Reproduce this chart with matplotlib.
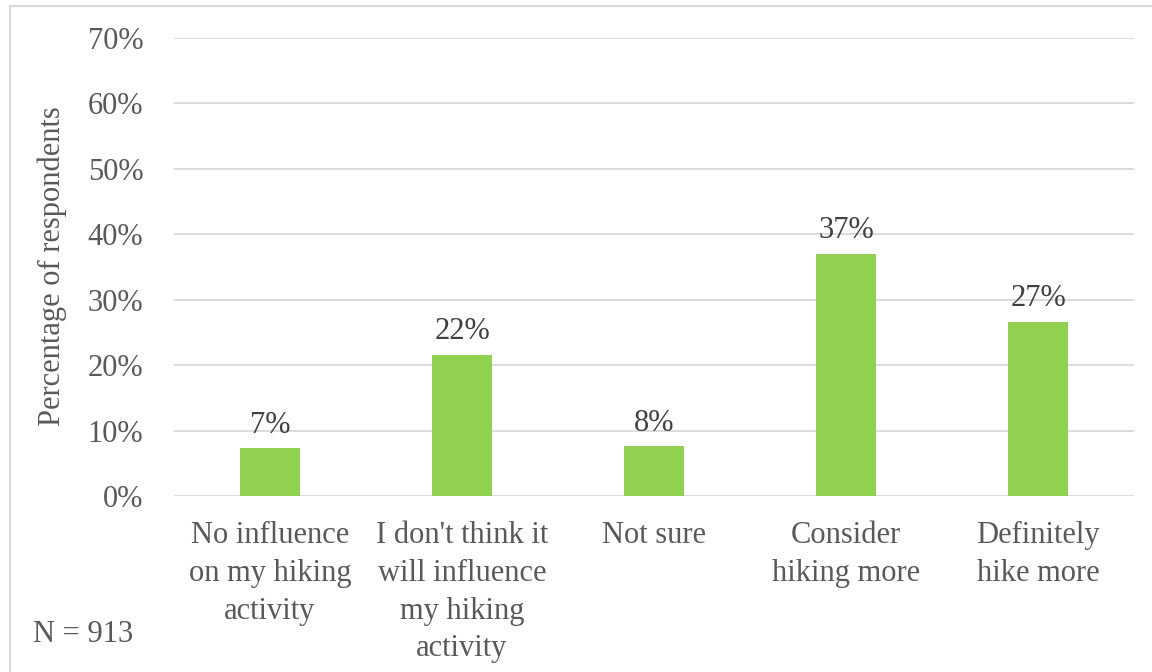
import matplotlib.pyplot as plt
from matplotlib.lines import Line2D

categories = ["No influence\non my hiking\nactivity",
              "I don't think it\nwill influence\nmy hiking\nactivity",
              "Not sure",
              "Consider\nhiking more",
              "Definitely\nhike more"]
values = [7.3, 21.6, 7.6, 37.0, 26.6]
labels = ["7%", "22%", "8%", "37%", "27%"]
yticks = [0, 10, 20, 30, 40, 50, 60, 70]

plt.rcParams['font.family'] = ['Liberation Serif', 'DejaVu Serif']
txt = "#595959"
fs = 22

fig = plt.figure(figsize=(11.52, 6.72), dpi=100)
ax = fig.add_axes([174/1152, 1 - 496/672, 960/1152, 458/672])

x = range(len(categories))
ax.bar(x, values, width=0.31, color="#92D050", zorder=3)
for i, v in enumerate(values):
    ax.text(i, v + 1.3, labels[i], ha="center", va="bottom", fontsize=fs, color="#404040")

ax.set_xlim(-0.5, 4.5)
ax.set_ylim(0, 70)
ax.set_yticks(yticks)
ax.set_yticklabels([f"{t}%" for t in yticks], fontsize=fs, color=txt)
ax.set_xticks(list(x))
ax.set_xticklabels(categories, fontsize=fs, color=txt, linespacing=1.4, va="top")
ax.grid(axis="y", color="#d9d9d9", linewidth=1.3, zorder=0)
for s in ax.spines.values():
    s.set_visible(False)
ax.tick_params(axis="both", length=0)
ax.tick_params(axis="x", pad=18)
ax.tick_params(axis="y", pad=22)

fig.text(52/1152, 1 - 266/672, "Percentage of respondents", fontsize=fs, color=txt,
         rotation=90, ha="center", va="center")
fig.text(33/1152, 1 - 634/672, "N = 913", fontsize=fs, color=txt, va="center")

# outer border (only left and top visible)
fig.add_artist(Line2D([10/1152, 10/1152], [0, 1 - 6/672], color="#d9d9d9", lw=1.5, transform=fig.transFigure))
fig.add_artist(Line2D([10/1152, 1], [1 - 6/672, 1 - 6/672], color="#d9d9d9", lw=1.5, transform=fig.transFigure))

fig.savefig("out.png", dpi=100)
